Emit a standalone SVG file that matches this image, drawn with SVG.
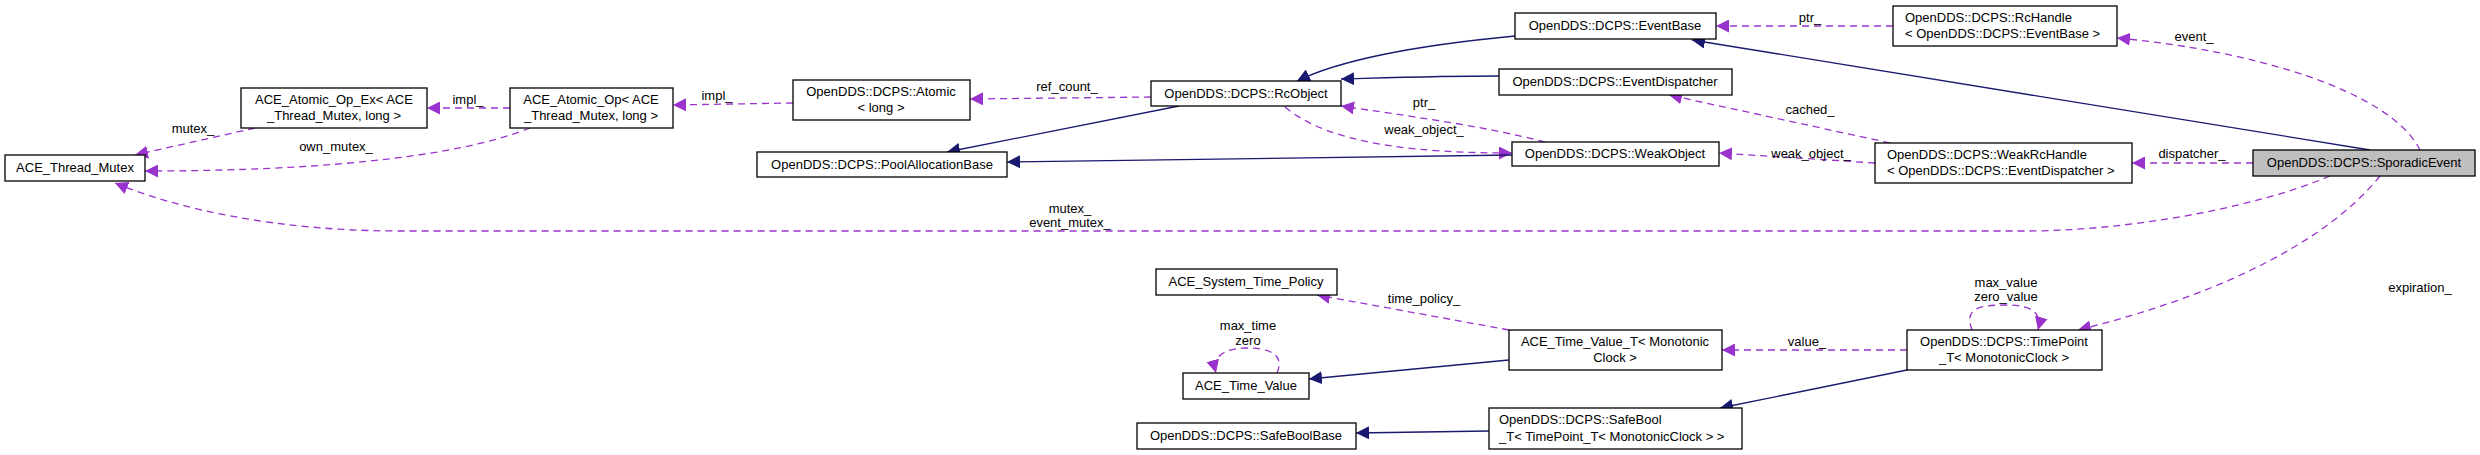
<svg xmlns="http://www.w3.org/2000/svg" width="2480" height="455" viewBox="0 0 2480 455">
<style>
.n rect{fill:#fff;stroke:#000;stroke-width:1.3}
.n.h rect{fill:#bfbfbf}
text{font-family:"Liberation Sans",Arial,sans-serif;font-size:13px;fill:#000;text-anchor:middle}
.d{fill:none;stroke:#9a32cd;stroke-width:1.3;stroke-dasharray:7,5;marker-end:url(#mp)}
.s{fill:none;stroke:#191970;stroke-width:1.3;marker-end:url(#mb)}
</style>
<defs>
<marker id="mp" viewBox="0 0 10 10" refX="10" refY="5" markerWidth="13" markerHeight="13" markerUnits="userSpaceOnUse" orient="auto"><path d="M0,0L10,5L0,10z" fill="#9a32cd"/></marker>
<marker id="mb" viewBox="0 0 10 10" refX="10" refY="5" markerWidth="13" markerHeight="13" markerUnits="userSpaceOnUse" orient="auto"><path d="M0,0L10,5L0,10z" fill="#191970"/></marker>
</defs>
<rect width="2480" height="455" fill="#fff"/>
<g id="edges">
<path class="d" d="M2420,150C2390,90 2250,50 2117,38"/><text x="2194" y="41">event_</text>
<path class="s" d="M2370,150L1692,40"/>
<path class="d" d="M1893,26L1716,26"/><text x="1810" y="22">ptr_</text>
<path class="s" d="M1515,36C1420,45 1340,60 1297,81"/>
<path class="s" d="M1499,76C1440,76 1380,78 1341,79"/>
<path class="d" d="M2253,163L2132,163"/><text x="2192" y="158">dispatcher_</text>
<path class="d" d="M1875,163L1719,153"/><text x="1811" y="158">weak_object_</text>
<path class="d" d="M1890,143L1669,95"/><text x="1810" y="114">cached_</text>
<path class="d" d="M1545,142C1480,125 1400,115 1341,106"/><text x="1424" y="107">ptr_</text>
<path class="d" d="M1285,107C1330,145 1420,153 1512,153"/><text x="1424" y="134">weak_object_</text>
<path class="s" d="M1512,155L1007,162"/>
<path class="s" d="M1179,106L947,152"/>
<path class="d" d="M1151,97L970,99"/><text x="1067" y="91">ref_count_</text>
<path class="d" d="M793,103L673,105"/><text x="717" y="100">impl_</text>
<path class="d" d="M510,108L427,108"/><text x="468" y="104">impl_</text>
<path class="d" d="M255,128L135,155"/><text x="193" y="133">mutex_</text>
<path class="d" d="M530,128C450,160 300,171 145,171"/><text x="336" y="151">own_mutex_</text>
<path class="d" d="M2330,176C2250,210 2120,231 2027,231L400,231C280,231 180,210 115,183"/><text x="1070" y="213">mutex_</text><text x="1070" y="227">event_mutex_</text>
<path class="d" d="M2380,176C2320,250 2200,300 2078,330"/><text x="2420" y="292">expiration_</text>
<path class="d" d="M1972,330C1965,310 1975,305 2005,305C2035,305 2042,315 2038,330"/><text x="2006" y="287">max_value</text><text x="2006" y="301">zero_value</text>
<path class="d" d="M1907,350L1722,350"/><text x="1807" y="346">value_</text>
<path class="d" d="M1509,330L1317,295"/><text x="1424" y="303">time_policy_</text>
<path class="s" d="M1509,360L1309,379"/>
<path class="d" d="M1277,373C1285,355 1270,348 1247,348C1222,348 1212,358 1216,373"/><text x="1248" y="330">max_time</text><text x="1248" y="345">zero</text>
<path class="s" d="M1907,370L1720,408"/>
<path class="s" d="M1489,431L1356,433"/>
</g>
<g id="EventBase" class="n"><rect x="1515" y="13" width="201" height="26"/><text x="1615" y="30">OpenDDS::DCPS::EventBase</text></g>
<g id="RcHandle" class="n"><rect x="1893" y="6" width="224" height="40"/><text x="1905" y="22" style="text-anchor:start">OpenDDS::DCPS::RcHandle</text><text x="1905" y="38" style="text-anchor:start">&lt; OpenDDS::DCPS::EventBase &gt;</text></g>
<g id="EventDispatcher" class="n"><rect x="1499" y="69" width="233" height="26"/><text x="1615" y="86">OpenDDS::DCPS::EventDispatcher</text></g>
<g id="RcObject" class="n"><rect x="1151" y="81" width="190" height="25"/><text x="1246" y="98">OpenDDS::DCPS::RcObject</text></g>
<g id="AtomicLong" class="n"><rect x="793" y="80" width="177" height="40"/><text x="881" y="96">OpenDDS::DCPS::Atomic</text><text x="881" y="112">&lt; long &gt;</text></g>
<g id="AtomicOp" class="n"><rect x="510" y="88" width="163" height="40"/><text x="591" y="104">ACE_Atomic_Op&lt; ACE</text><text x="591" y="120">_Thread_Mutex, long &gt;</text></g>
<g id="AtomicOpEx" class="n"><rect x="241" y="88" width="186" height="40"/><text x="334" y="104">ACE_Atomic_Op_Ex&lt; ACE</text><text x="334" y="120">_Thread_Mutex, long &gt;</text></g>
<g id="ThreadMutex" class="n"><rect x="5" y="155" width="140" height="26"/><text x="75" y="172">ACE_Thread_Mutex</text></g>
<g id="Pool" class="n"><rect x="757" y="152" width="250" height="25"/><text x="882" y="169">OpenDDS::DCPS::PoolAllocationBase</text></g>
<g id="WeakObject" class="n"><rect x="1512" y="142" width="207" height="24"/><text x="1615" y="158">OpenDDS::DCPS::WeakObject</text></g>
<g id="WeakRcHandle" class="n"><rect x="1875" y="143" width="257" height="40"/><text x="1887" y="159" style="text-anchor:start">OpenDDS::DCPS::WeakRcHandle</text><text x="1887" y="175" style="text-anchor:start">&lt; OpenDDS::DCPS::EventDispatcher &gt;</text></g>
<g id="SporadicEvent" class="n h"><rect x="2253" y="150" width="222" height="26"/><text x="2364" y="167">OpenDDS::DCPS::SporadicEvent</text></g>
<g id="SystemTimePolicy" class="n"><rect x="1156" y="269" width="181" height="26"/><text x="1246" y="286">ACE_System_Time_Policy</text></g>
<g id="TimeValueT" class="n"><rect x="1509" y="330" width="213" height="40"/><text x="1615" y="346">ACE_Time_Value_T&lt; Monotonic</text><text x="1615" y="362">Clock &gt;</text></g>
<g id="TimeValue" class="n"><rect x="1183" y="373" width="126" height="26"/><text x="1246" y="390">ACE_Time_Value</text></g>
<g id="TimePoint" class="n"><rect x="1907" y="330" width="195" height="40"/><text x="2004" y="346">OpenDDS::DCPS::TimePoint</text><text x="2004" y="362">_T&lt; MonotonicClock &gt;</text></g>
<g id="SafeBoolT" class="n"><rect x="1489" y="408" width="253" height="41"/><text x="1499" y="424" style="text-anchor:start">OpenDDS::DCPS::SafeBool</text><text x="1499" y="441" style="text-anchor:start">_T&lt; TimePoint_T&lt; MonotonicClock &gt; &gt;</text></g>
<g id="SafeBoolBase" class="n"><rect x="1137" y="423" width="219" height="26"/><text x="1246" y="440">OpenDDS::DCPS::SafeBoolBase</text></g>
</svg>
